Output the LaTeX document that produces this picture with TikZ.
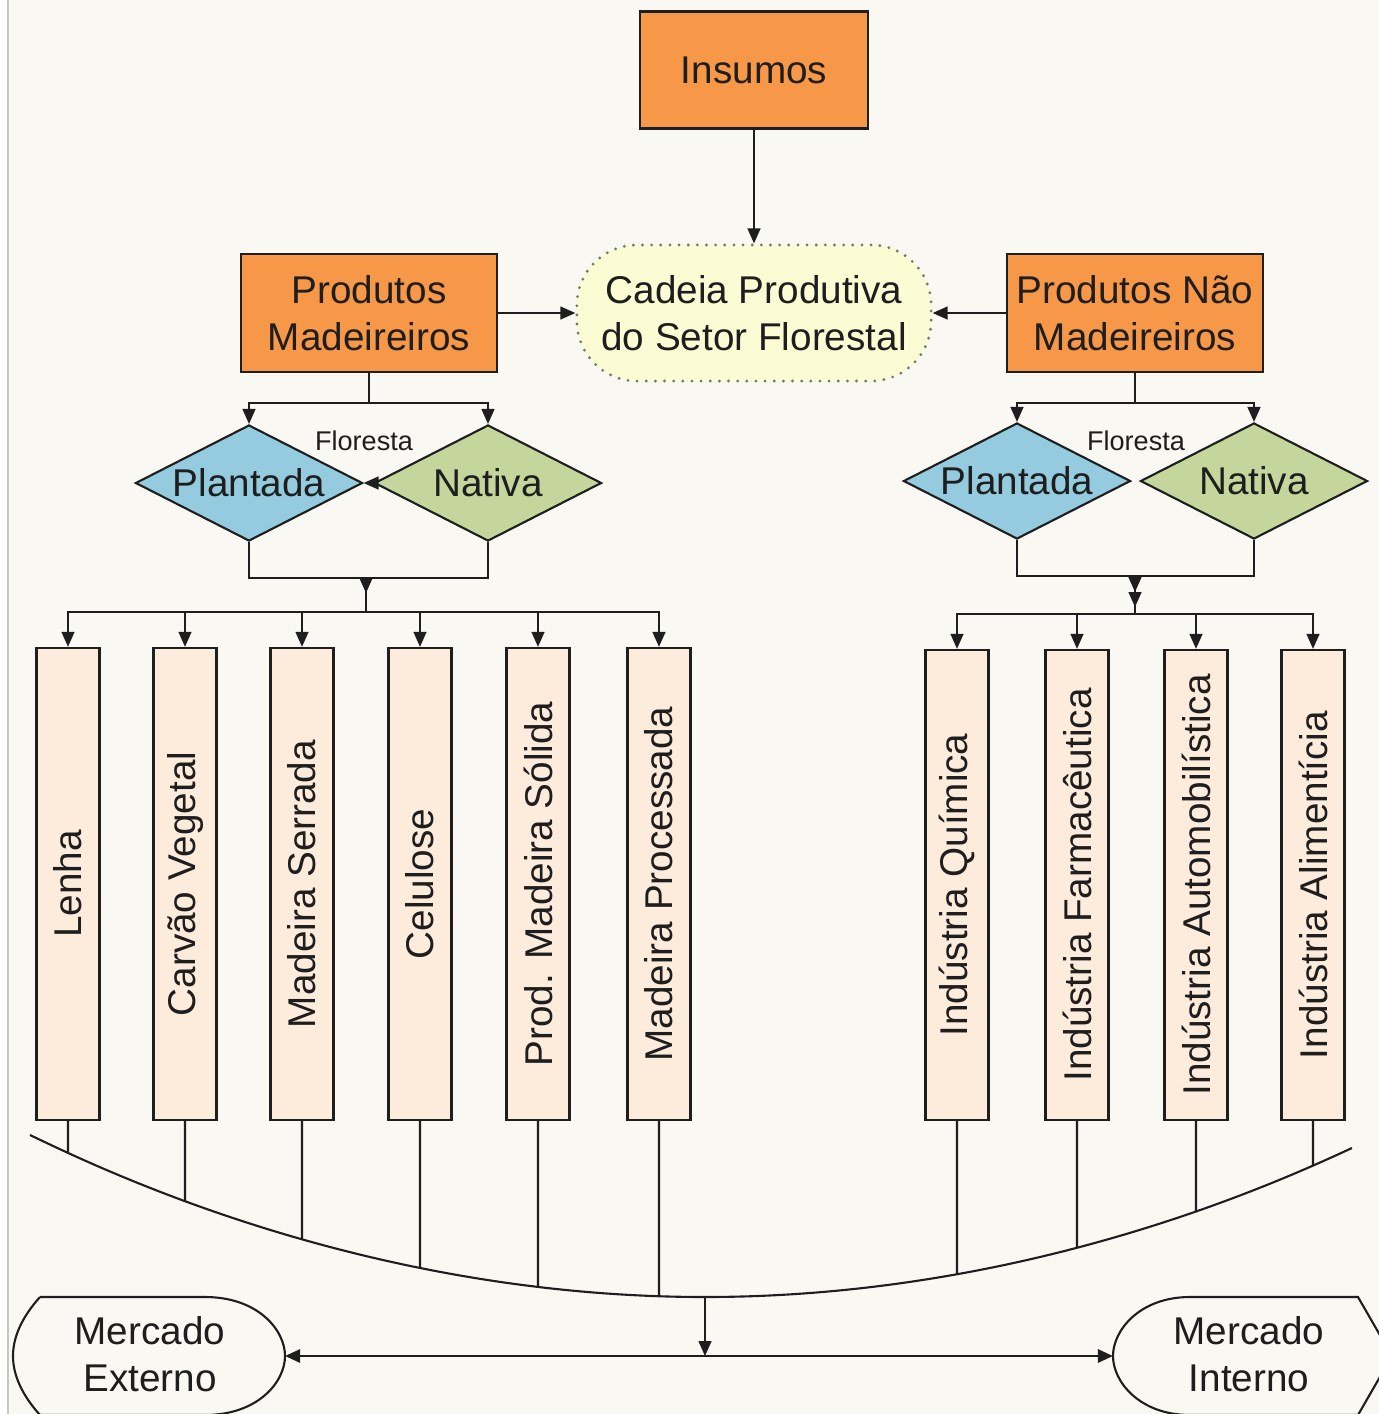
\documentclass[tikz,border=0pt]{standalone}
\usepackage{fontspec}
\setmainfont{Liberation Sans}
\usepackage{tikz}
\usetikzlibrary{shapes.geometric,arrows.meta,intersections}

\definecolor{fundo}{RGB}{249,248,243}
\definecolor{linha}{RGB}{30,30,30}
\definecolor{laranja}{RGB}{247,152,72}
\definecolor{amarelo}{RGB}{252,252,212}
\definecolor{ponto}{RGB}{110,125,100}
\definecolor{azul}{RGB}{148,203,222}
\definecolor{verde}{RGB}{196,214,156}
\definecolor{pessego}{RGB}{253,235,220}

\begin{document}
\begin{tikzpicture}[x=0.01cm,y=-0.01cm,color=linha,
  font=\fontsize{11}{13.4}\selectfont,
  >={Triangle[length=1.5mm,width=1.3mm]},
  caixa/.style={draw=linha,fill=laranja,semithick,align=center,inner sep=0pt},
  floresta/.style={diamond,draw=linha,semithick,aspect=2,inner sep=0pt,
    minimum width=2.27cm,minimum height=1.16cm},
  produto/.style={draw=linha,fill=pessego,semithick,inner sep=0pt,
    minimum width=0.63cm,minimum height=4.72cm},
  rotulo/.style={font=\fontsize{7.7}{9}\selectfont}]

% page
\useasboundingbox (0,0) rectangle (1379,1414);
\clip (0,0) rectangle (1379,1414);
\fill[fundo] (0,0) rectangle (1379,1414);
\fill[white] (0,0) rectangle (8,1414);
\draw[gray!45] (8,0) -- (8,1414);

% top
\node[caixa,minimum width=2.28cm,minimum height=1.17cm] (insumos) at (754,70) {Insumos};
\node[draw=ponto,fill=amarelo,line width=0.9pt,line cap=round,dash pattern=on 0pt off 2.6pt,
  rounded corners=6mm,minimum width=3.54cm,minimum height=1.36cm,align=center] (cadeia) at (754,313)
  {Cadeia Produtiva\\do Setor Florestal};
\node[caixa,minimum width=2.56cm,minimum height=1.18cm] (pmad) at (369,313) {Produtos\\Madeireiros};
\node[caixa,minimum width=2.55cm,minimum height=1.18cm] (pnmad) at (1135,313) {Produtos Não\\Madeireiros};

\draw[->] (insumos) -- (cadeia);
\path[->] (pmad) edge (cadeia)
          (pnmad) edge (cadeia);

% florestas
\node[floresta,fill=azul] (plantL) at (249,483) {Plantada};
\node[floresta,fill=verde] (nativL) at (488,483) {Nativa};
\node[rotulo] (florL) at (364,441) {Floresta};
\node[floresta,fill=azul] (plantR) at (1017,481) {Plantada};
\node[floresta,fill=verde] (nativR) at (1254,481) {Nativa};
\node[rotulo] (florR) at (1136,441) {Floresta};

\draw[->] (pmad.south) -- ++(0,30) -| (plantL.north);
\draw[->] (pmad.south) -- ++(0,30) -| (nativL.north);
\draw[->] (nativL.west) -- (plantL.east);
\draw[->] (pnmad.south) -- ++(0,30) -| (plantR.north);
\draw[->] (pnmad.south) -- ++(0,30) -| (nativR.north);

% joins
\draw (plantL.south) -- ++(0,36) -| (nativL.south);
\coordinate (jL) at (366,577);
\draw[->] (jL) -- ++(0,16);
\draw (plantR.south) -- ++(0,36) -| (nativR.south);
\coordinate (jR) at (1135,577);
\draw[-{Triangle[length=1.5mm,width=1.3mm]Triangle[length=1.5mm,width=1.3mm]}] (jR) -- ++(0,30);

% produtos madeireiros
\node[produto] (lenha) at (68,884) {\rotatebox{90}{Lenha}};
\node[produto] (carvao) at (185,884) {\rotatebox{90}{Carvão Vegetal}};
\node[produto] (serrada) at (302,884) {\rotatebox{90}{Madeira Serrada}};
\node[produto] (celulose) at (420,884) {\rotatebox{90}{Celulose}};
\node[produto] (solida) at (538,884) {\rotatebox{90}{Prod. Madeira Sólida}};
\node[produto] (processada) at (659,884) {\rotatebox{90}{Madeira Processada}};

% produtos nao madeireiros
\node[produto,minimum height=4.70cm] (quimica) at (957,885) {\rotatebox{90}{Indústria Química}};
\node[produto,minimum height=4.70cm] (farma) at (1077,885) {\rotatebox{90}{Indústria Farmacêutica}};
\node[produto,minimum height=4.70cm] (auto) at (1196,885) {\rotatebox{90}{Indústria Automobilística}};
\node[produto,minimum height=4.70cm] (alimento) at (1313,885) {\rotatebox{90}{Indústria Alimentícia}};

\foreach \p in {lenha,carvao,serrada,celulose,solida,processada}
  \draw[->] (jL) -- ++(0,35) -| (\p.north);
\foreach \p in {quimica,farma,auto,alimento}
  \draw[->] (jR) -- ++(0,37) -| (\p.north);

% arc
\draw[semithick,name path=arco] (30,1135) parabola bend (705,1297) (1352,1148);
\foreach \p in {lenha,carvao,serrada,celulose,solida,processada,quimica,farma,auto,alimento}{
  \path[name path=queda] (\p.south) -- ++(0,250);
  \draw[semithick,name intersections={of=arco and queda}] (\p.south) -- (intersection-1);
}

% mercados
\draw[semithick] (40,1297) -- (205,1297)
  .. controls (258,1297) and (285,1330) .. (285,1356)
  .. controls (285,1382) and (258,1415) .. (205,1415) -- (40,1415)
  .. controls (22,1395) and (13,1375) .. (13,1356)
  .. controls (13,1337) and (22,1317) .. (40,1297);
\draw[semithick] (1190,1297) -- (1358,1297) -- (1392,1356) -- (1358,1415) -- (1190,1415)
  .. controls (1140,1415) and (1113,1382) .. (1113,1356)
  .. controls (1113,1330) and (1140,1297) .. (1190,1297);
\node[align=center] (mext) at (150,1354) {Mercado\\Externo};
\node[align=center] (mint) at (1249,1354) {Mercado\\Interno};
\coordinate (mextTip) at (285,1356);
\coordinate (mintTip) at (1113,1356);
\coordinate (fundoArco) at (705,1297);

\draw[thick,<->] (mextTip) -- (mintTip);
\draw[->] (fundoArco) -- (fundoArco |- mintTip);
\end{tikzpicture}
\end{document}
